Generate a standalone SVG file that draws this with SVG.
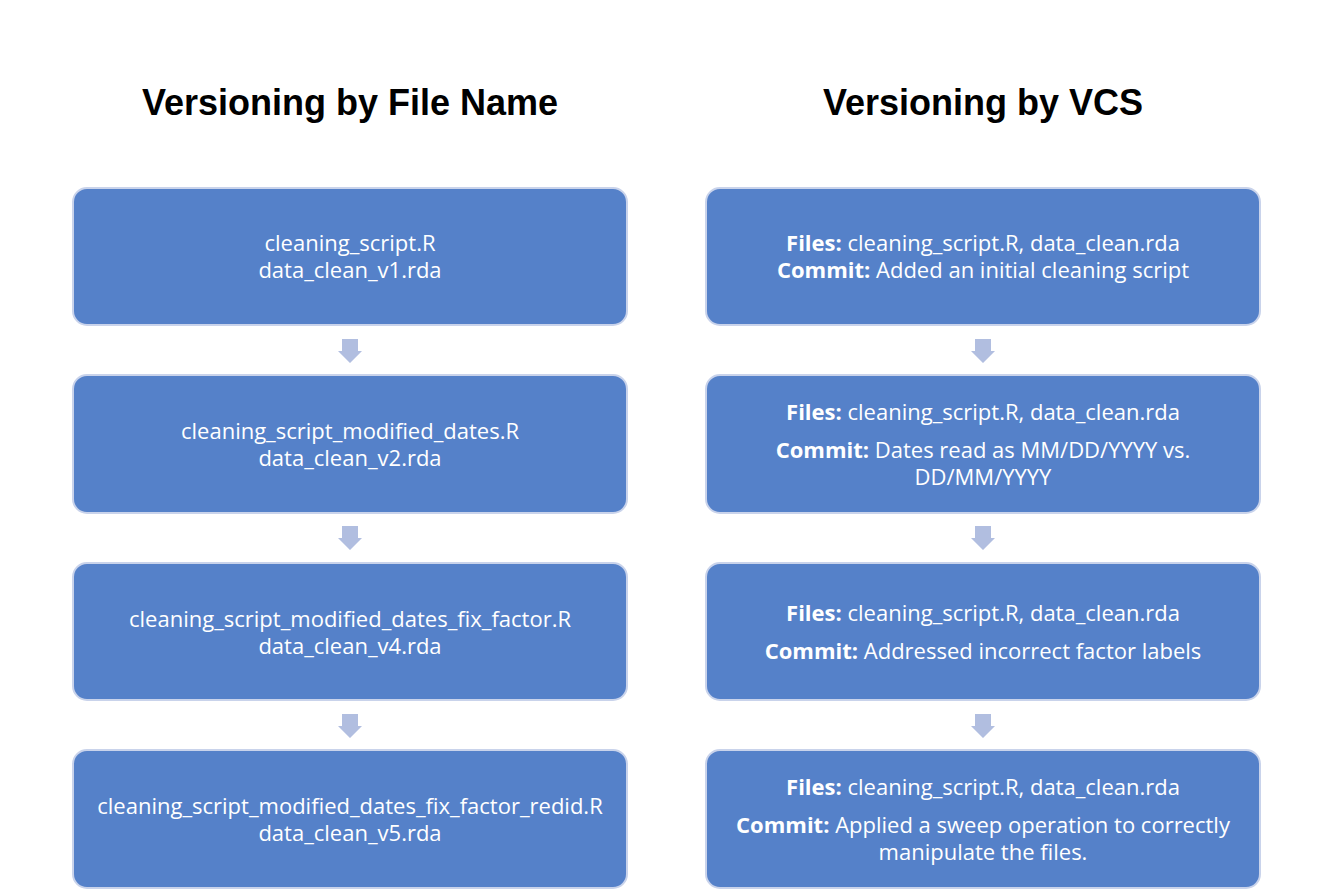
<svg xmlns="http://www.w3.org/2000/svg" width="1334" height="890" viewBox="0 0 1334 890">
<style>
.title{font-family:"Liberation Sans",Arial,sans-serif;font-weight:bold;font-size:36px;fill:#000;text-anchor:middle}
.box{fill:#5581C9;stroke:#C9D3EB;stroke-width:2}
.t{font-family:"Open Sans","Liberation Sans",Arial,sans-serif;font-size:22px;fill:#fff;text-anchor:middle;dominant-baseline:central}
.b{font-weight:bold}
.arr{fill:#B1BEE0}
</style>
<defs>
<path id="dn" d="M-8,0 H8 V12 H12 L0,24 L-12,12 H-8 Z"/>
</defs>
<rect width="1334" height="890" fill="#fff"/>
<text class="title" x="350" y="115">Versioning by File Name</text>
<text class="title" x="983" y="115">Versioning by VCS</text>
<g id="connectors">
<use href="#dn" class="arr" x="350" y="339"/>
<use href="#dn" class="arr" x="350" y="526"/>
<use href="#dn" class="arr" x="350" y="714"/>
<use href="#dn" class="arr" x="983" y="339"/>
<use href="#dn" class="arr" x="983" y="526"/>
<use href="#dn" class="arr" x="983" y="714"/>
</g>
<g id="l1"><rect class="box" x="73" y="188" width="554" height="137" rx="14"/>
<text class="t" x="350" y="242">cleaning_script.R</text>
<text class="t" x="350" y="269">data_clean_v1.rda</text></g>
<g id="l2"><rect class="box" x="73" y="375" width="554" height="138" rx="14"/>
<text class="t" x="350" y="430">cleaning_script_modified_dates.R</text>
<text class="t" x="350" y="457">data_clean_v2.rda</text></g>
<g id="l3"><rect class="box" x="73" y="563" width="554" height="137" rx="14"/>
<text class="t" x="350" y="618">cleaning_script_modified_dates_fix_factor.R</text>
<text class="t" x="350" y="645">data_clean_v4.rda</text></g>
<g id="l4"><rect class="box" x="73" y="750" width="554" height="138" rx="14"/>
<text class="t" x="350" y="805">cleaning_script_modified_dates_fix_factor_redid.R</text>
<text class="t" x="350" y="832">data_clean_v5.rda</text></g>
<g id="r1"><rect class="box" x="706" y="188" width="554" height="137" rx="14"/>
<text class="t" x="983" y="242"><tspan class="b">Files:</tspan> cleaning_script.R, data_clean.rda</text>
<text class="t" x="983" y="269"><tspan class="b">Commit:</tspan> Added an initial cleaning script</text></g>
<g id="r2"><rect class="box" x="706" y="375" width="554" height="138" rx="14"/>
<text class="t" x="983" y="411"><tspan class="b">Files:</tspan> cleaning_script.R, data_clean.rda</text>
<text class="t" x="983" y="449"><tspan class="b">Commit:</tspan> Dates read as MM/DD/YYYY vs.</text>
<text class="t" x="983" y="476">DD/MM/YYYY</text></g>
<g id="r3"><rect class="box" x="706" y="563" width="554" height="137" rx="14"/>
<text class="t" x="983" y="612"><tspan class="b">Files:</tspan> cleaning_script.R, data_clean.rda</text>
<text class="t" x="983" y="650"><tspan class="b">Commit:</tspan> Addressed incorrect factor labels</text></g>
<g id="r4"><rect class="box" x="706" y="750" width="554" height="138" rx="14"/>
<text class="t" x="983" y="786"><tspan class="b">Files:</tspan> cleaning_script.R, data_clean.rda</text>
<text class="t" x="983" y="824"><tspan class="b">Commit:</tspan> Applied a sweep operation to correctly</text>
<text class="t" x="983" y="851">manipulate the files.</text></g>
</svg>
